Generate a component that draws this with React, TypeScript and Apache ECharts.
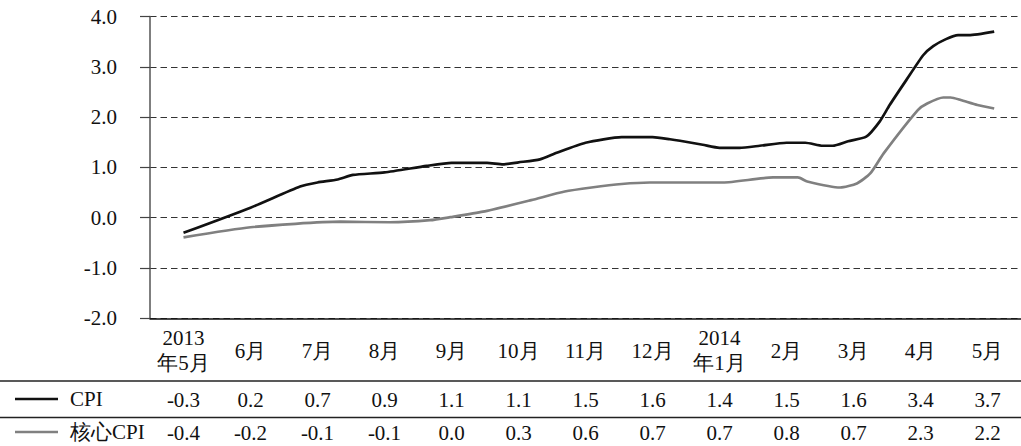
import React, { useEffect, useRef } from "react";
import * as echarts from "echarts";

const months = ["2013\n年5月", "6月", "7月", "8月", "9月", "10月", "11月", "12月", "2014\n年1月", "2月", "3月", "4月", "5月"];
const cpiTable = [-0.3, 0.2, 0.7, 0.9, 1.1, 1.1, 1.5, 1.6, 1.4, 1.5, 1.6, 3.4, 3.7];
const coreTable = [-0.4, -0.2, -0.1, -0.1, 0.0, 0.3, 0.6, 0.7, 0.7, 0.8, 0.7, 2.3, 2.2];

// curve positions in month-index units (0 = 2013年5月)
const cpiCurveX = [0, 1, 1.74, 2, 2.3, 2.53, 3, 3.63, 4, 4.53, 4.77, 5, 5.32, 5.57, 6, 6.54, 7, 7.26, 7.41, 7.75, 8, 8.3, 8.6, 9, 9.28, 9.54, 9.69, 9.92, 10.19, 10.39, 10.54, 10.79, 11.04, 11.19, 11.38, 11.56, 11.72, 12.1];
const cpiCurveY = [-0.3, 0.2, 0.62, 0.7, 0.76, 0.85, 0.9, 1.03, 1.09, 1.09, 1.06, 1.1, 1.16, 1.29, 1.49, 1.6, 1.6, 1.56, 1.53, 1.45, 1.39, 1.39, 1.43, 1.49, 1.49, 1.43, 1.43, 1.52, 1.61, 1.91, 2.24, 2.74, 3.23, 3.41, 3.55, 3.63, 3.63, 3.7];
const coreCurveX = [0, 1, 2.34, 3.08, 3.68, 3.98, 4.47, 5.19, 5.69, 6.09, 6.54, 6.96, 8.05, 8.8, 9.17, 9.31, 9.8, 10.05, 10.25, 10.45, 10.96, 11.1, 11.34, 11.45, 11.6, 11.85, 12.1];
const coreCurveY = [-0.39, -0.19, -0.08, -0.09, -0.05, 0.01, 0.12, 0.35, 0.52, 0.6, 0.67, 0.7, 0.7, 0.8, 0.8, 0.72, 0.6, 0.68, 0.88, 1.28, 2.14, 2.27, 2.39, 2.39, 2.34, 2.24, 2.17];

const FONT = "Liberation Serif";
const FS = 21;

export default function App() {
  const ref = useRef<HTMLDivElement>(null);
  useEffect(() => {
    if (!ref.current) return;
    const chart = echarts.init(ref.current, undefined, { renderer: "svg" });
    const cpiData = cpiCurveX.map((x, i) => [x, cpiCurveY[i]]);
    const coreData = coreCurveX.map((x, i) => [x, coreCurveY[i]]);
    const hiddenCat = {
      type: "category",
      position: "bottom",
      axisLine: { show: false, onZero: false },
      axisTick: { show: false },
      splitLine: { show: false },
    };
    chart.setOption({
      animation: false,
      backgroundColor: "#ffffff",
      textStyle: { fontFamily: FONT },
      grid: { left: 150, right: 0, top: 16.5, bottom: 127.7, containLabel: false },
      legend: {
        orient: "vertical",
        left: 15,
        top: 387,
        padding: 0,
        icon: "rect",
        itemWidth: 43,
        itemHeight: 2.5,
        itemGap: 9,
        selectedMode: false,
        textStyle: { fontFamily: FONT, fontSize: FS, color: "#111", lineHeight: 24, padding: [0, 0, 0, 7] },
        data: ["CPI", "核心CPI"],
      },
      xAxis: [
        {
          type: "category",
          data: months,
          boundaryGap: true,
          axisLine: { onZero: false, lineStyle: { color: "#111", width: 1.5 } },
          axisTick: { show: false },
          axisLabel: {
            interval: 0,
            margin: 32.5,
            verticalAlign: "middle",
            lineHeight: 25,
            fontSize: FS,
            fontFamily: FONT,
            color: "#111",
          },
        },
        {
          type: "value",
          min: -0.5,
          max: 12.5,
          show: false,
        },
        {
          ...hiddenCat,
          data: cpiTable.map((v) => v.toFixed(1)),
          axisLabel: { interval: 0, margin: 82, verticalAlign: "middle", fontSize: FS, fontFamily: FONT, color: "#111" },
        },
        {
          ...hiddenCat,
          data: coreTable.map((v) => v.toFixed(1)),
          axisLabel: { interval: 0, margin: 115, verticalAlign: "middle", fontSize: FS, fontFamily: FONT, color: "#111" },
        },
      ],
      yAxis: {
        type: "value",
        min: -2,
        max: 4,
        interval: 1,
        axisLine: { show: true, onZero: false, lineStyle: { color: "#555", width: 1.5 } },
        axisTick: { show: true, length: 10, lineStyle: { color: "#444", width: 1.2 } },
        axisLabel: {
          margin: 33,
          fontSize: FS,
          fontFamily: FONT,
          color: "#111",
          formatter: (v: number) => v.toFixed(1),
        },
        splitLine: { show: true, lineStyle: { color: "#333", type: [6.5, 4], width: 1.2 } },
      },
      series: [
        {
          name: "CPI",
          type: "line",
          xAxisIndex: 1,
          data: cpiData,
          smooth: 0.2,
          showSymbol: false,
          symbol: "none",
          lineStyle: { color: "#111", width: 2.7 },
          itemStyle: { color: "#111" },
        },
        {
          name: "核心CPI",
          type: "line",
          xAxisIndex: 1,
          data: coreData,
          smooth: 0.2,
          showSymbol: false,
          symbol: "none",
          lineStyle: { color: "#808080", width: 2.7 },
          itemStyle: { color: "#808080" },
        },
      ],
      graphic: [
        { type: "line", shape: { x1: 0, y1: 381, x2: 1021, y2: 381 }, style: { stroke: "#222", lineWidth: 1.5 } },
        { type: "line", shape: { x1: 0, y1: 417.5, x2: 1021, y2: 417.5 }, style: { stroke: "#222", lineWidth: 1.5 } },
      ],
    });
    return () => chart.dispose();
  }, []);
  return <div ref={ref} style={{ position: "fixed", left: 0, top: 0, width: 1021, height: 446 }} />;
}
